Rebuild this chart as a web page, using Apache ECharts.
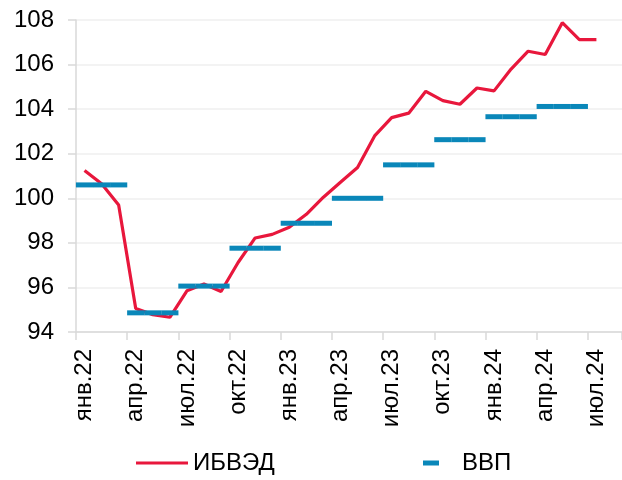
<!DOCTYPE html>
<html>
<head>
<meta charset="utf-8">
<script src="https://cdn.jsdelivr.net/npm/echarts@6/dist/echarts.min.js"></script>
<style>
  html, body { margin: 0; padding: 0; background: #fff; }
  #chart { width: 622px; height: 480px; }
</style>
</head>
<body>
<div id="chart"></div>
<script>
// Monthly categories, янв.22 – авг.24
const months = [
  'янв.22','фев.22','мар.22','апр.22','май.22','июн.22','июл.22','авг.22','сен.22','окт.22','ноя.22','дек.22',
  'янв.23','фев.23','мар.23','апр.23','май.23','июн.23','июл.23','авг.23','сен.23','окт.23','ноя.23','дек.23',
  'янв.24','фев.24','мар.24','апр.24','май.24','июн.24','июл.24','авг.24'
];

// ИБВЭД, monthly index
const ibved = [
  101.25, 100.65, 99.70, 95.05, 94.78, 94.66, 95.85, 96.15, 95.82, 97.12, 98.22, 98.38,
  98.70, 99.28, 100.05, 100.72, 101.38, 102.80, 103.62, 103.82, 104.80, 104.38, 104.22, 104.95,
  104.82, 105.80, 106.60, 106.45, 107.88, 107.12, 107.12, null
];

// ВВП, quarterly level shown for each month of its quarter
const vvp = [
  100.60, 100.60, 100.60, 94.86, 94.86, 94.86, 96.06, 96.06, 96.06, 97.76, 97.76, 97.76,
  98.88, 98.88, 98.88, 100.00, 100.00, 100.00, 101.50, 101.50, 101.50, 102.63, 102.63, 102.63,
  103.66, 103.66, 103.66, 104.12, 104.12, 104.12, null, null
];

const yTicks = { min: 94, max: 108, step: 2 };

const RED = '#E8173C';
const BLUE = '#0A87B9';
const FONT = 'Liberation Sans, Arial, sans-serif';

const chart = echarts.init(document.getElementById('chart'), null, { renderer: 'canvas' });

chart.setOption({
  animation: false,
  backgroundColor: '#ffffff',
  textStyle: { fontFamily: FONT },
  grid: { left: 76, right: -3, top: 20, bottom: 148, containLabel: false },
  xAxis: {
    type: 'category',
    data: months,
    boundaryGap: true,
    axisLine: { show: true, lineStyle: { color: '#d9d9d9', width: 1.5 } },
    axisTick: { show: true, interval: 2, length: 8, lineStyle: { color: '#d9d9d9', width: 1.5 } },
    axisLabel: {
      interval: 2,
      rotate: 90,
      margin: 17,
      color: '#000',
      fontSize: 24,
      fontFamily: FONT
    },
    splitLine: { show: false }
  },
  yAxis: {
    type: 'value',
    min: yTicks.min,
    max: yTicks.max,
    interval: yTicks.step,
    axisLine: { show: true, lineStyle: { color: '#d9d9d9', width: 1.5 } },
    axisTick: { show: true, length: 8, lineStyle: { color: '#d9d9d9', width: 1.5 } },
    axisLabel: { color: '#000', fontSize: 24, margin: 22, fontFamily: FONT },
    splitLine: { show: true, lineStyle: { color: '#efefef', width: 1.5 } }
  },
  legend: [
    {
      left: 136,
      top: 451,
      padding: 0,
      itemWidth: 52,
      itemHeight: 3,
      itemGap: 0,
      data: [{ name: 'ИБВЭД', icon: 'rect', itemStyle: { color: RED } }],
      textStyle: { fontSize: 24, color: '#000', fontFamily: FONT }
    },
    {
      left: 423,
      top: 451,
      padding: 0,
      itemWidth: 16,
      itemHeight: 5,
      itemGap: 0,
      data: [{ name: 'ВВП', icon: 'rect', itemStyle: { color: BLUE } }],
      textStyle: { fontSize: 24, color: '#000', fontFamily: FONT, padding: [0, 0, 0, 18] }
    }
  ],
  series: [
    {
      name: 'ИБВЭД',
      type: 'line',
      data: ibved,
      showSymbol: false,
      symbol: 'none',
      lineStyle: { color: RED, width: 3.2 },
      itemStyle: { color: RED },
      z: 2
    },
    {
      name: 'ВВП',
      type: 'scatter',
      data: vvp,
      symbol: 'rect',
      symbolSize: [17.2, 5],
      itemStyle: { color: BLUE, opacity: 1, borderWidth: 0 },
      z: 3
    }
  ]
});
</script>
</body>
</html>
